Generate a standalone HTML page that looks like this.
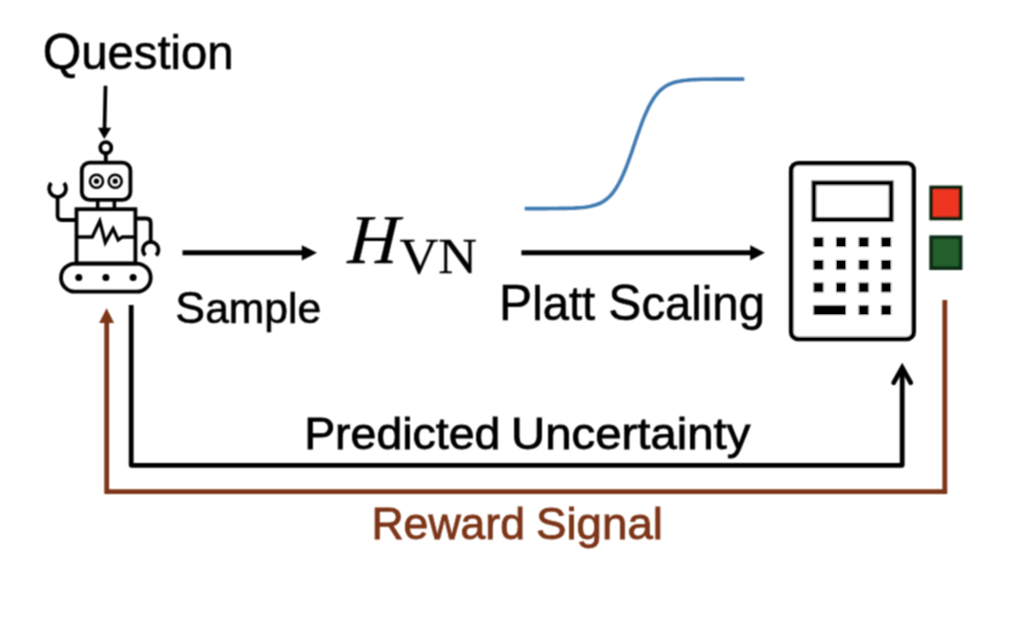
<!DOCTYPE html>
<html lang="en">
<head>
<meta charset="utf-8">
<title>Calibration pipeline</title>
<style>
html,body{margin:0;padding:0;background:#fff;}
body{width:1022px;height:630px;overflow:hidden;}
svg{display:block;will-change:transform;}
text{font-family:"Liberation Sans",sans-serif;fill:#000;stroke:#000;stroke-width:0.6px;}
text.serif{font-family:"Liberation Serif",serif;stroke-width:0.3px;}
</style>
</head>
<body>
<svg width="1022" height="630" viewBox="0 0 1022 630">
<defs><filter id="soft" x="0" y="0" width="1022" height="630" filterUnits="userSpaceOnUse"><feConvolveMatrix order="3" kernelMatrix="1 2 1 2 4 2 1 2 1" divisor="16" edgeMode="duplicate" preserveAlpha="false"/></filter></defs>
<rect width="1022" height="630" fill="#fff"/>
<g filter="url(#soft)">

<!-- labels -->
<text id="t-q" x="42.63" y="69.05" font-size="48" textLength="190.96" lengthAdjust="spacingAndGlyphs"><tspan font-size="50.4">Q</tspan>uestion</text>
<text id="t-s" x="175.37" y="323.3" font-size="43" textLength="145.72" lengthAdjust="spacingAndGlyphs"><tspan font-size="45.1">S</tspan>ample</text>
<text id="t-p" x="499.06" y="319.7" font-size="48" textLength="265.9" lengthAdjust="spacingAndGlyphs"><tspan font-size="50.4">P</tspan>latt <tspan font-size="50.4">S</tspan>caling</text>
<text id="t-pu" y="449.3" font-size="44" style="stroke-width:0.8px"><tspan x="304.17" textLength="196.15" lengthAdjust="spacingAndGlyphs">Predicted</tspan> <tspan x="511.07" textLength="239.24" lengthAdjust="spacingAndGlyphs">Uncertainty</tspan></text>
<text id="t-rw" y="539.0" font-size="44" style="fill:#7c3418;stroke:#7c3418;stroke-width:0.8px"><tspan x="371.41" textLength="153.6" lengthAdjust="spacingAndGlyphs">Reward</tspan> <tspan x="535.94" textLength="127.02" lengthAdjust="spacingAndGlyphs">Signal</tspan></text>

<!-- H_VN -->
<text id="t-h" class="serif" transform="translate(0 263.4) skewX(-3.5) translate(0 -263.4)" x="347.39" y="263.5" font-size="70" font-style="italic" textLength="50.05" lengthAdjust="spacingAndGlyphs">H</text>
<text id="t-vn" class="serif" x="399.46" y="272.8" font-size="50" textLength="77.48" lengthAdjust="spacingAndGlyphs">VN</text>

<!-- question arrow -->
<g id="qarrow">
<line x1="105.5" y1="85.7" x2="104.5" y2="129" stroke="#000" stroke-width="3.7"/>
<polygon points="97.9,127.7 111.2,127.7 104.3,139.1" fill="#000"/>
</g>

<!-- sample arrow -->
<g id="sarrow">
<line x1="182.5" y1="252.8" x2="303" y2="252.8" stroke="#000" stroke-width="4.9"/>
<polygon points="301.8,245.2 317,252.8 301.8,260.4" fill="#000"/>
</g>

<!-- platt arrow -->
<g id="parrow">
<line x1="521.4" y1="252.8" x2="751.5" y2="252.8" stroke="#000" stroke-width="4.9"/>
<polygon points="750.2,245.2 764.8,252.8 750.2,260.4" fill="#000"/>
</g>

<!-- sigmoid -->
<path id="sig" d="M524.7,208.6 L527.4,208.6 L530.2,208.6 L532.9,208.6 L535.7,208.6 L538.4,208.6 L541.2,208.6 L543.9,208.6 L546.7,208.6 L549.4,208.5 L552.2,208.5 L554.9,208.5 L557.6,208.5 L560.4,208.4 L563.1,208.4 L565.9,208.4 L568.6,208.3 L571.4,208.2 L574.1,208.1 L576.9,207.9 L579.6,207.7 L582.3,207.5 L585.1,207.2 L587.8,206.8 L590.6,206.3 L593.3,205.6 L596.1,204.8 L598.8,203.8 L601.6,202.5 L604.3,200.8 L607.0,198.8 L609.8,196.2 L612.5,193.2 L615.3,189.4 L618.0,185.0 L620.8,179.7 L623.5,173.8 L626.3,167.0 L629.0,159.7 L631.8,151.9 L634.5,143.8 L637.2,135.8 L640.0,128.0 L642.7,120.6 L645.5,113.9 L648.2,107.9 L651.0,102.7 L653.7,98.2 L656.5,94.5 L659.2,91.4 L662.0,88.9 L664.7,86.8 L667.4,85.2 L670.2,83.9 L672.9,82.8 L675.7,82.0 L678.4,81.4 L681.2,80.9 L683.9,80.5 L686.7,80.2 L689.4,79.9 L692.1,79.7 L694.9,79.6 L697.6,79.5 L700.4,79.4 L703.1,79.3 L705.9,79.2 L708.6,79.2 L711.4,79.2 L714.1,79.1 L716.8,79.1 L719.6,79.1 L722.3,79.1 L725.1,79.1 L727.8,79.1 L730.6,79.1 L733.3,79.1 L736.1,79.1 L738.8,79.1 L741.6,79.1 L744.3,79.1" fill="none" stroke="#3f7ab1" stroke-width="3.6" stroke-linejoin="round"/>

<!-- robot -->
<g id="robot" fill="none" stroke="#000" stroke-width="3.8" stroke-linejoin="round" stroke-linecap="round">
<circle cx="105.8" cy="147.7" r="5.5" stroke-width="3.8"/>
<line x1="105.8" y1="153.5" x2="105.8" y2="161" stroke-linecap="butt"/>
<rect x="81.8" y="162.6" width="48.6" height="37.3" rx="8"/>
<circle cx="96.5" cy="181.2" r="6.5" stroke-width="2.6"/>
<circle cx="115.2" cy="181.2" r="6.5" stroke-width="2.6"/>
<circle cx="96.5" cy="181.2" r="2.6" fill="#000" stroke="none"/>
<circle cx="115.2" cy="181.2" r="2.6" fill="#000" stroke="none"/>
<line x1="97.7" y1="200.5" x2="97.7" y2="208.5" stroke-linecap="butt" stroke-width="3.6"/>
<line x1="114.4" y1="200.5" x2="114.4" y2="208.5" stroke-linecap="butt" stroke-width="3.6"/>
<rect x="76.5" y="209.2" width="58.9" height="54.3" stroke-linejoin="miter"/>
<polyline points="77.8,237 92.3,237 99.8,221 105.3,242.6 113.1,228.6 118.2,240 122.4,237 134.1,237" stroke-width="3.3" stroke-linejoin="miter" stroke-miterlimit="10" stroke-linecap="butt"/>
<path d="M51.22,183.06 A8.45,8.45 0 1 0 63.98,183.06" stroke-linecap="butt"/>
<path d="M57.6,197 V215.5 q0,4.5 4.5,4.5 H75"/>
<path d="M137,218.5 H146.2 q4.5,0 4.5,4.5 V241.5"/>
<path d="M145.38,255.40 A7.8,7.8 0 1 1 156.02,255.40" stroke-linecap="butt"/>
<rect x="61" y="263.6" width="89.7" height="28.1" rx="14.05"/>
<circle cx="78.8" cy="277.6" r="3.5" fill="#000" stroke="none"/>
<circle cx="105.9" cy="277.6" r="3.5" fill="#000" stroke="none"/>
<circle cx="133.1" cy="277.6" r="3.5" fill="#000" stroke="none"/>
</g>

<!-- calculator -->
<g id="calc">
<rect x="791.2" y="163.2" width="122.5" height="175.8" rx="7" fill="#fff" stroke="#000" stroke-width="4.6"/>
<rect x="813.9" y="182.9" width="77.25" height="36.75" fill="#fff" stroke="#000" stroke-width="4.8"/>
<g fill="#000"><rect x="813.5" y="237.25" width="9.9" height="9.7"/><rect x="836.1" y="237.25" width="9.9" height="9.7"/><rect x="858.7" y="237.25" width="9.9" height="9.7"/><rect x="881.2" y="237.25" width="9.9" height="9.7"/><rect x="813.5" y="259.95" width="9.9" height="9.7"/><rect x="836.1" y="259.95" width="9.9" height="9.7"/><rect x="858.7" y="259.95" width="9.9" height="9.7"/><rect x="881.2" y="259.95" width="9.9" height="9.7"/><rect x="813.5" y="282.6" width="9.9" height="9.7"/><rect x="836.1" y="282.6" width="9.9" height="9.7"/><rect x="858.7" y="282.6" width="9.9" height="9.7"/><rect x="881.2" y="282.6" width="9.9" height="9.7"/><rect x="813.5" y="305.3" width="32.5" height="9.7"/><rect x="858.7" y="305.3" width="9.9" height="9.7"/><rect x="881.2" y="305.3" width="9.9" height="9.7"/></g>
</g>

<!-- status squares -->
<rect x="931.1" y="187.4" width="29.5" height="31.1" fill="#ee3423" stroke="#0a2410" stroke-width="3.6"/>
<rect x="931.1" y="237.2" width="29.5" height="31" fill="#205e2c" stroke="#082a12" stroke-width="3.6"/>

<!-- predicted uncertainty path -->
<g id="pu" fill="none" stroke="#000" stroke-width="4.8" stroke-linejoin="round">
<polyline points="131.2,305.1 131.2,465.3 902.2,465.3 902.2,368"/>
<polyline points="893.6,382.8 902.2,367.5 910.8,382.8" stroke-width="4.7" stroke-linecap="round" stroke-linejoin="miter"/>
</g>

<!-- reward path -->
<g id="rw">
<polyline points="944.8,300.1 944.8,491.7 106.7,491.7 106.7,322" fill="none" stroke="#7c3418" stroke-width="4.8"/>
<polygon points="99.1,323 114.1,323 106.6,308.3" fill="#7c3418"/>
</g>
</g>
</svg>
</body>
</html>
